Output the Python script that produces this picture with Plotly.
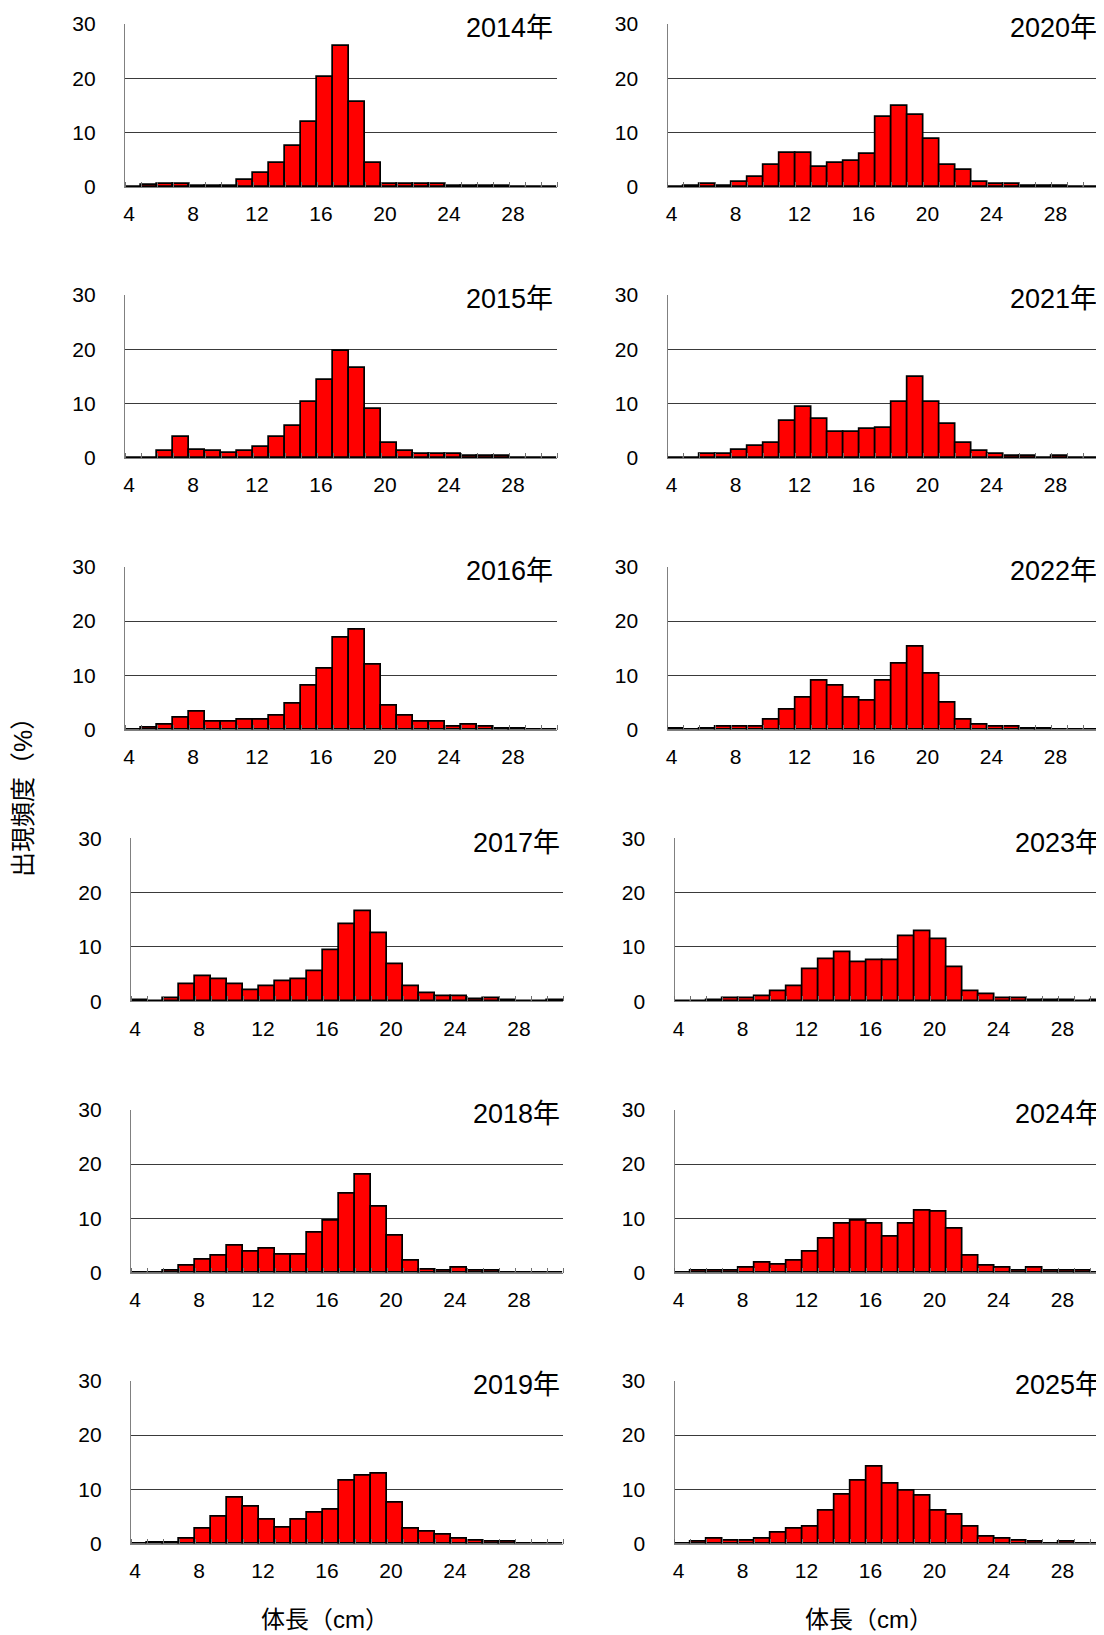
import plotly.graph_objects as go

# ---------------- data ----------------
body_length_cm = [4, 5, 6, 7, 8, 9, 10, 11, 12, 13, 14, 15, 16, 17, 18, 19, 20,
                  21, 22, 23, 24, 25, 26, 27, 28, 29, 30]

freq_2014 = [0, 0.3, 0.5, 0.5, 0.2, 0.2, 0.2, 1.2, 2.6, 4.4, 7.5, 11.9, 20.3, 25.9, 15.6, 4.4,
             0.5, 0.5, 0.5, 0.5, 0.2, 0.2, 0.2, 0.2, 0, 0, 0]
freq_2015 = [0, 0, 1.2, 3.8, 1.5, 1.2, 0.9, 1.2, 2.1, 3.8, 5.9, 10.3, 14.4, 19.7, 16.5, 9.1,
             2.8, 1.2, 0.7, 0.7, 0.7, 0.4, 0.4, 0.4, 0, 0, 0]
freq_2016 = [0, 0.3, 0.9, 2.2, 3.4, 1.5, 1.5, 1.9, 1.9, 2.5, 4.7, 8.1, 11.3, 16.9, 18.4, 11.9,
             4.4, 2.5, 1.5, 1.5, 0.6, 1.0, 0.6, 0.2, 0.2, 0, 0]
freq_2017 = [0.2, 0, 0.5, 3.1, 4.6, 4.0, 3.1, 2.1, 2.7, 3.7, 4.0, 5.6, 9.4, 14.1, 16.6, 12.5,
             6.9, 2.8, 1.5, 0.9, 0.9, 0.3, 0.6, 0.2, 0, 0, 0.2]
freq_2018 = [0, 0, 0.3, 1.2, 2.4, 3.1, 5.0, 3.8, 4.4, 3.3, 3.4, 7.4, 9.6, 14.6, 18.1, 12.2,
             6.9, 2.2, 0.6, 0.3, 1.0, 0.3, 0.3, 0, 0, 0, 0]
freq_2019 = [0, 0.2, 0.2, 0.9, 2.8, 5.0, 8.5, 6.9, 4.5, 2.9, 4.4, 5.7, 6.3, 11.6, 12.5, 12.8,
             7.5, 2.8, 2.2, 1.6, 0.9, 0.6, 0.3, 0.3, 0, 0, 0]
freq_2020 = [0, 0.2, 0.6, 0.2, 0.9, 1.8, 4.1, 6.2, 6.2, 3.7, 4.4, 4.7, 6.0, 12.8, 15.0, 13.2,
             8.8, 4.1, 3.1, 0.9, 0.6, 0.6, 0.2, 0.2, 0.2, 0, 0]
freq_2021 = [0, 0, 0.7, 0.7, 1.5, 2.3, 2.8, 6.9, 9.4, 7.2, 4.7, 4.7, 5.3, 5.6, 10.3, 15.0,
             10.3, 6.2, 2.8, 1.2, 0.7, 0.3, 0.3, 0, 0.3, 0, 0]
freq_2022 = [0.2, 0, 0.2, 0.6, 0.6, 0.6, 1.8, 3.7, 5.9, 9.0, 8.1, 5.9, 5.3, 9.0, 12.2, 15.3,
             10.3, 5.0, 1.8, 0.9, 0.6, 0.6, 0.2, 0.2, 0, 0, 0]
freq_2023 = [0, 0, 0.2, 0.6, 0.6, 0.9, 1.8, 2.7, 5.9, 7.7, 9.0, 7.2, 7.5, 7.5, 11.9, 12.8,
             11.5, 6.2, 1.8, 1.2, 0.6, 0.6, 0.2, 0.2, 0.2, 0, 0.2]
freq_2024 = [0, 0.3, 0.3, 0.3, 0.9, 1.8, 1.5, 2.3, 3.8, 6.2, 9.0, 9.6, 9.0, 6.6, 9.0, 11.5,
             11.2, 8.1, 3.1, 1.3, 0.9, 0.4, 0.9, 0.4, 0.4, 0.4, 0]
freq_2025 = [0, 0.3, 0.9, 0.6, 0.6, 0.9, 2.1, 2.7, 3.2, 6.0, 9.1, 11.6, 14.1, 11.0, 9.7, 8.8,
             6.0, 5.3, 3.2, 1.3, 0.9, 0.6, 0.3, 0, 0.3, 0, 0]

year_labels = ["2014年", "2015年", "2016年", "2017年", "2018年", "2019年",
               "2020年", "2021年", "2022年", "2023年", "2024年", "2025年"]
x_tick_vals = [4, 8, 12, 16, 20, 24, 28]
x_tick_text = ["4", "8", "12", "16", "20", "24", "28"]
y_tick_vals = [0, 10, 20, 30]
y_tick_text = ["0", "10", "20", "30"]
y_title = "出現頻度（%）"
x_title = "体長（cm）"

series = [freq_2014, freq_2015, freq_2016, freq_2017, freq_2018, freq_2019,
          freq_2020, freq_2021, freq_2022, freq_2023, freq_2024, freq_2025]

# ---------------- layout (screen px, page has an 8px body margin) ----------------
W, H = 1104, 1635
OFF = 8
FONT = "Liberation Sans, Arial, Noto Sans CJK JP, sans-serif"
tops = [24, 295, 566.7, 838.3, 1109.7, 1380.7]
PH = 163
left_x0 = [125, 125, 125, 131, 131, 131]
right_x0 = [667.5, 667.5, 667.5, 674.5, 674.5, 674.5]
label_right = [[552, 552, 552, 559, 559, 559], [1096, 1096, 1096, 1101, 1101, 1101]]
PW = 432
CAT_PX = 16.0


def fx(px):
    return (px - OFF) / W


def fy(py):
    return 1 - (py - OFF) / H


fig = go.Figure()
layout = dict(
    width=W, height=H,
    margin=dict(l=0, r=0, t=0, b=0, autoexpand=False),
    paper_bgcolor="white", plot_bgcolor="white",
    showlegend=False, bargap=0,
    font=dict(family=FONT, color="black", size=21),
)
annotations = []

for i in range(12):
    col = i // 6
    row = i % 6
    idx = i + 1
    x0 = left_x0[row] if col == 0 else right_x0[row]
    x1 = min(x0 + PW, W + OFF)
    top = tops[row]
    fig.add_trace(go.Bar(
        x=body_length_cm, y=series[i], width=1,
        marker=dict(color="#FF0000", line=dict(color="black", width=1.7)),
        xaxis=f"x{idx}", yaxis=f"y{idx}", hoverinfo="x+y",
    ))
    layout[f"xaxis{idx}"] = dict(
        domain=[fx(x0), min(fx(x1), 1.0)], anchor=f"y{idx}",
        range=[3.5, 3.5 + (x1 - x0) / CAT_PX],
        tickmode="array", tickvals=[v - 0.25 for v in x_tick_vals], ticktext=x_tick_text,
        ticks="", showgrid=False, zeroline=False, automargin=False,
        showline=True, linecolor="#808080", linewidth=1.2,
        minor=dict(ticks="inside", tick0=3.5, dtick=1, ticklen=5,
                   tickcolor="#707070", tickwidth=1, showgrid=False),
        tickfont=dict(size=21, family=FONT, color="black"),
        ticklabelstandoff=8,
    )
    layout[f"yaxis{idx}"] = dict(
        domain=[fy(top + PH), fy(top)], anchor=f"x{idx}",
        range=[0, 30], automargin=False,
        tickmode="array", tickvals=y_tick_vals, ticktext=y_tick_text,
        ticks="", showgrid=True, gridcolor="#3a3a3a", gridwidth=1,
        zeroline=False, showline=True, linecolor="#808080", linewidth=1.2,
        tickfont=dict(size=21, family=FONT, color="black"),
        ticklabelstandoff=24,
    )
    annotations.append(dict(
        text=year_labels[i], xref="paper", yref="paper",
        x=fx(label_right[col][row] + 5), y=fy(top + 4.5),
        xanchor="right", yanchor="middle", showarrow=False,
        bgcolor="white", borderpad=3,
        font=dict(size=27, family=FONT, color="black"),
    ))

annotations.append(dict(
    text=y_title, xref="paper", yref="paper", x=fx(23), y=fy(791),
    xanchor="center", yanchor="middle", textangle=-90, showarrow=False,
    font=dict(size=25, family=FONT, color="black"),
))
for cx in (325, 869):
    annotations.append(dict(
        text=x_title, xref="paper", yref="paper", x=fx(cx), y=fy(1619),
        xanchor="center", yanchor="middle", showarrow=False,
        font=dict(size=24, family=FONT, color="black"),
    ))

layout["annotations"] = annotations
fig.update_layout(**layout)
fig.write_html("out.html")
